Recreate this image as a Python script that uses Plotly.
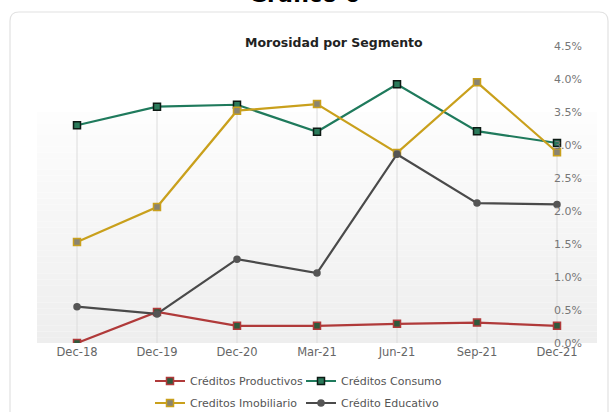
import plotly.graph_objects as go

categories = ["Dec-18", "Dec-19", "Dec-20", "Mar-21", "Jun-21", "Sep-21", "Dec-21"]
productivos = [0.00, 0.47, 0.26, 0.26, 0.29, 0.31, 0.26]
consumo = [3.30, 3.58, 3.61, 3.20, 3.92, 3.21, 3.03]
imobiliario = [1.53, 2.06, 3.52, 3.62, 2.88, 3.95, 2.89]
educativo = [0.55, 0.44, 1.27, 1.06, 2.86, 2.12, 2.10]
y_ticks = [0.0, 0.5, 1.0, 1.5, 2.0, 2.5, 3.0, 3.5, 4.0, 4.5]
y_tick_text = [f"{v:.1f}%" for v in y_ticks]

FONT = "DejaVu Sans"

fig = go.Figure()

# drop lines from top-most point of each category to the axis
xs, ys = [], []
for i, c in enumerate(categories):
    top = max(productivos[i], consumo[i], imobiliario[i], educativo[i])
    xs += [c, c, None]
    ys += [0, top, None]
fig.add_trace(go.Scatter(x=xs, y=ys, mode="lines", line=dict(color="#dcdcdc", width=1),
                         showlegend=False, hoverinfo="skip"))

series = [
    ("Créditos Productivos", productivos, "#b03a3a", "square", "#2f5a3c", "#b03a3a", 7, "legend"),
    ("Créditos Consumo", consumo, "#1f7a5c", "square", "#2a7a5a", "#0d1a14", 7, "legend"),
    ("Creditos Imobiliario", imobiliario, "#c9a01c", "square", "#8a8470", "#c9a01c", 7, "legend2"),
    ("Crédito Educativo", educativo, "#4a4a4a", "circle", "#555555", "#555555", 6, "legend2"),
]
for name, vals, col, sym, mfill, mline, msize, leg in series:
    fig.add_trace(go.Scatter(
        x=categories, y=vals, name=name, mode="lines+markers",
        line=dict(color=col, width=2.2),
        marker=dict(symbol=sym, size=msize, color=mfill, line=dict(color=mline, width=1.5)),
        legend=leg,
    ))

# gradient plot background (0% to 3.5%)
n = 40
top_val = 3.5
for k in range(n):
    y0 = top_val * k / n
    y1 = top_val * (k + 1) / n
    t = k / (n - 1)
    g = int(round(0xEE + (0xFD - 0xEE) * t))
    fig.add_shape(type="rect", xref="x domain", yref="y", x0=0, x1=1, y0=y0, y1=y1,
                  fillcolor=f"rgb({g},{g},{g})", line=dict(width=0), layer="below")

# card border (rounded)
L, T, R, B = 10, 12, 608, 430
def px(x):
    return (x - 37) / 560
def py(y):
    return (343 - y) / 297
r = 9
path = (f"M {px(L)},{py(B)} L {px(L)},{py(T + r)} Q {px(L)},{py(T)} {px(L + r)},{py(T)} "
        f"L {px(R - r)},{py(T)} Q {px(R)},{py(T)} {px(R)},{py(T + r)} L {px(R)},{py(B)}")
fig.add_shape(type="path", xref="paper", yref="paper", path=path,
              line=dict(color="#e2e2e2", width=1.2), layer="below")

fig.add_annotation(text="<b>Gráfico 6</b>", xref="paper", yref="paper", x=px(304), y=py(9),
                   xanchor="center", yanchor="bottom", showarrow=False,
                   font=dict(family=FONT, size=22, color="#000000"))
fig.add_annotation(text="<b>Morosidad por Segmento</b>", xref="paper", yref="paper", x=px(334), y=py(43),
                   xanchor="center", yanchor="middle", showarrow=False,
                   font=dict(family=FONT, size=12.5, color="#222222"))

legend_common = dict(orientation="h", xanchor="left", yanchor="middle",
                     font=dict(family=FONT, size=11, color="#555555"),
                     bgcolor="rgba(0,0,0,0)", entrywidth=106, entrywidthmode="pixels",
                     itemwidth=30, tracegroupgap=0)

fig.update_layout(
    width=613, height=412,
    margin=dict(l=37, r=16, t=46, b=69, autoexpand=False),
    paper_bgcolor="white", plot_bgcolor="white",
    font=dict(family=FONT, size=11, color="#666666"),
    xaxis=dict(type="category", range=[-0.5, 6.5], showgrid=False, showline=False, zeroline=False,
               ticks="", tickfont=dict(family=FONT, size=11.5, color="#666666"), fixedrange=True),
    yaxis=dict(range=[0, 4.5], side="right", tickvals=y_ticks, ticktext=y_tick_text,
               ticklabelposition="inside", ticklabeloverflow="allow", ticklabelstandoff=12,
               showgrid=False, zeroline=False, showline=False, ticks="",
               tickfont=dict(family=FONT, size=11, color="#777777")),
    legend=dict(x=px(150), y=py(381), **legend_common),
    legend2=dict(x=px(150), y=py(403), **legend_common),
    showlegend=True,
)

fig.write_html("out.html", config={"displayModeBar": False},
               post_script="document.body.style.margin='0';")
